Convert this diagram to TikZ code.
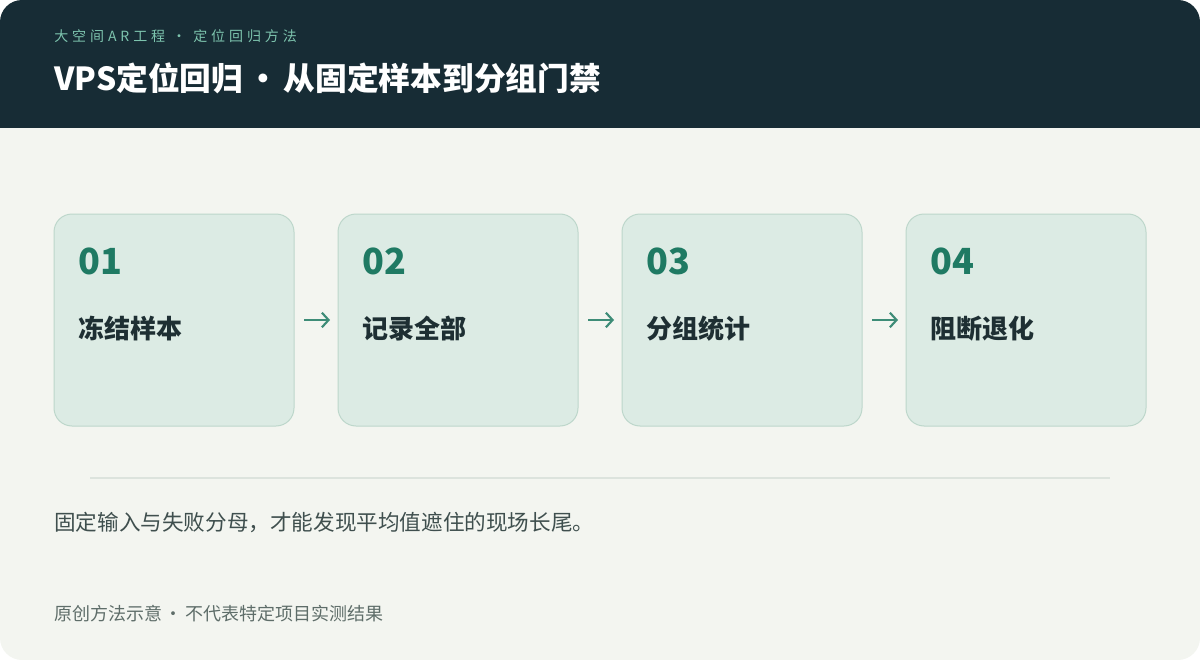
\documentclass[tikz,border=0pt]{standalone}
\usepackage{fontspec}
\setmainfont[WordSpace=0.6]{Noto Sans CJK SC}
\newfontfamily\cjkwide[LetterSpace=28]{Noto Sans CJK SC}
\usetikzlibrary{arrows.meta, calc, positioning}
\definecolor{hdrc}{HTML}{172C35}
\definecolor{bodyc}{HTML}{F3F5F0}
\definecolor{subc}{HTML}{7DC4AE}
\definecolor{boxbg}{HTML}{DCEBE4}
\definecolor{boxln}{HTML}{BDD7CB}
\definecolor{numc}{HTML}{1F7A63}
\definecolor{labc}{HTML}{1E2F33}
\definecolor{arrc}{HTML}{3D8C77}
\definecolor{sepc}{HTML}{DCE3DD}
\definecolor{capc}{HTML}{3F4F4E}
\definecolor{footc}{HTML}{5E6D69}
\tikzset{%
    box/.style={rectangle, rounded corners=13.5pt, draw=boxln, fill=boxbg, line width=0.75pt, minimum width=180pt, minimum height=159pt, inner sep=0pt, outer sep=0pt},
    num/.style={anchor=base west, inner sep=0pt, text=numc, font=\bfseries\fontsize{27}{30}\selectfont},
    lab/.style={anchor=base west, inner sep=0pt, text=labc, font=\bfseries\fontsize{19.5}{21}\selectfont},
    txt/.style={anchor=base west, inner sep=0pt},
    arr/.style={line width=1.6pt, draw=arrc, -{Straight Barb[length=5pt, width=11pt]}},
}
\begin{document}
\begin{tikzpicture}[x=0.75pt, y=-0.75pt]
    \useasboundingbox (0,0) rectangle (1200,660);
    \fill [bodyc, rounded corners=16.5pt] (0,0) rectangle (1200,660);
    \begin{scope}
        \clip [rounded corners=16.5pt] (0,0) rectangle (1200,660);
        \fill [hdrc] (0,0) rectangle (1200,128);
    \end{scope}
    \node [txt, text=subc, font=\cjkwide\fontsize{10.5}{12}\selectfont] (sub) at (54,42) {大空间AR工程 · 定位回归方法};
    \node [txt, text=white, font=\bfseries\fontsize{23.8}{25}\selectfont] (ttl) at (54,91) {VPS定位回归 · 从固定样本到分组门禁};
    % steps
    \node [box, anchor=north west] (b1) at (54,214) {};
    \node [box, right=33pt of b1] (b2) {};
    \node [box, right=33pt of b2] (b3) {};
    \node [box, right=33pt of b3] (b4) {};
    \node [num] (n1) at ($(b1.north west)+(24,60)$) {01};
    \node [num] (n2) at ($(b2.north west)+(24,60)$) {02};
    \node [num] (n3) at ($(b3.north west)+(24,60)$) {03};
    \node [num] (n4) at ($(b4.north west)+(24,60)$) {04};
    \node [lab] (l1) at ($(b1.north west)+(24,124)$) {冻结样本};
    \node [lab] (l2) at ($(b2.north west)+(24,124)$) {记录全部};
    \node [lab] (l3) at ($(b3.north west)+(24,124)$) {分组统计};
    \node [lab] (l4) at ($(b4.north west)+(24,124)$) {阻断退化};
    \draw [arr] ($(b1.east)+(10,0)$) -- ($(b2.west)+(-8,0)$);
    \draw [arr] ($(b2.east)+(10,0)$) -- ($(b3.west)+(-8,0)$);
    \draw [arr] ($(b3.east)+(10,0)$) -- ($(b4.west)+(-8,0)$);
    % bottom
    \draw [sepc, line width=1.5pt] (90,478) -- (1110,478);
    \node [txt, text=capc, font=\fontsize{16.2}{18}\selectfont] (cap) at (54,530) {固定输入与失败分母，才能发现平均值遮住的现场长尾。};
    \node [txt, text=footc, font=\fontsize{13.5}{15}\selectfont] (ft) at (54,620) {原创方法示意 · 不代表特定项目实测结果};
\end{tikzpicture}
\end{document}
